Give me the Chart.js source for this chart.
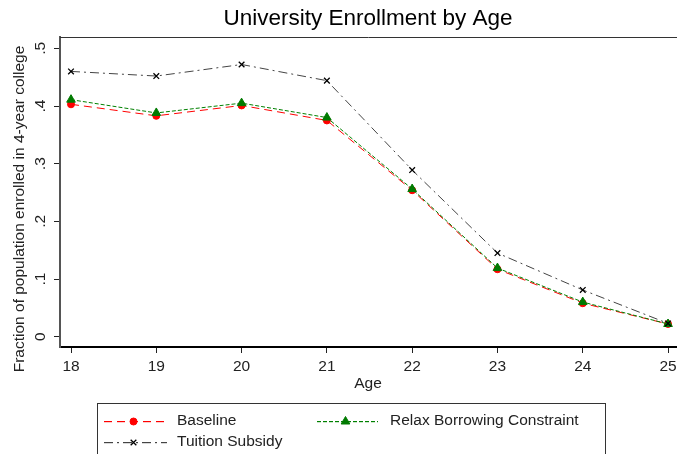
<!DOCTYPE html>
<html>
<head>
<meta charset="utf-8">
<script src="https://cdn.jsdelivr.net/npm/chart.js@4.4.1/dist/chart.umd.min.js"></script>
<style>
  html, body { margin: 0; padding: 0; background: #fff; }
  #wrap { width: 677px; height: 454px; position: relative; }
</style>
</head>
<body>
<div id="wrap"><canvas id="c" width="677" height="454"></canvas></div>
<script>
// Enrollment in 4-year college by age, three policy scenarios
const ages = [18, 19, 20, 21, 22, 23, 24, 25];
const baseline = [0.403, 0.383, 0.401, 0.375, 0.254, 0.117, 0.058, 0.022];
const relaxBorrowing = [0.411, 0.388, 0.405, 0.380, 0.256, 0.119, 0.060, 0.022];
const tuitionSubsidy = [0.460, 0.452, 0.472, 0.444, 0.289, 0.145, 0.081, 0.023];
const yTickValues = [0, 0.1, 0.2, 0.3, 0.4, 0.5];
const yTickLabels = ['0', '.1', '.2', '.3', '.4', '.5'];
const seriesNames = ['Baseline', 'Relax Borrowing Constraint', 'Tuition Subsidy'];

const FONT = '"Liberation Sans", Arial, sans-serif';
const toXY = (vals) => vals.map((v, i) => ({ x: ages[i], y: v }));

// line and marker styles shared by the plotted series and the legend keys
const styles = [
  { line: '#ff0000', dash: [8, 5], marker: 'circle', radius: 3.5, fill: '#ff0000', stroke: '#ff0000', mw: 1 },
  { line: '#008000', dash: [4, 2], marker: 'triangle', radius: 5, fill: '#007a00', stroke: '#007a00', mw: 1 },
  { line: '#444444', dash: [9, 4, 2, 4], marker: 'crossRot', radius: 4, fill: '#000000', stroke: '#000000', mw: 1.3 }
];

// dashed key line built from filled 1px segments
function dashedKey(ctx, x0, x1, y, dash, color) {
  ctx.fillStyle = color;
  let x = x0, k = 0;
  while (x < x1) {
    const len = dash[k % dash.length];
    if (k % 2 === 0) ctx.fillRect(x, y, Math.min(len, x1 - x), 1.2);
    x += len;
    k++;
  }
}

// Title, top rule, rotated y labels and the boxed legend
const decor = {
  id: 'decor',
  afterDraw(chart) {
    const ctx = chart.ctx;
    const area = chart.chartArea;
    const ys = chart.scales.y;
    ctx.save();

    // title
    ctx.fillStyle = '#000';
    ctx.font = '22.5px ' + FONT;
    ctx.textAlign = 'center';
    ctx.textBaseline = 'middle';
    ctx.fillText('University Enrollment by Age', 368, 19);

    // top rule of plot region
    ctx.strokeStyle = '#333';
    ctx.lineWidth = 1;
    ctx.beginPath();
    ctx.moveTo(area.left, area.top + 0.5);
    ctx.lineTo(chart.width, area.top + 0.5);
    ctx.stroke();

    // rotated y tick labels
    ctx.font = '15.5px ' + FONT;
    ctx.fillStyle = '#222';
    yTickValues.forEach((v, i) => {
      const py = ys.getPixelForValue(v);
      ctx.save();
      ctx.translate(area.left - 19, py);
      ctx.rotate(-Math.PI / 2);
      ctx.textAlign = 'center';
      ctx.textBaseline = 'middle';
      ctx.fillText(yTickLabels[i], 0, 0);
      ctx.restore();
    });

    // y axis title
    ctx.save();
    ctx.translate(20, 209);
    ctx.rotate(-Math.PI / 2);
    ctx.textAlign = 'center';
    ctx.textBaseline = 'middle';
    ctx.fillText('Fraction of population enrolled in 4-year college', 0, 0);
    ctx.restore();

    // x axis title
    ctx.textAlign = 'center';
    ctx.textBaseline = 'middle';
    ctx.fillText('Age', 368, 384);

    // legend box
    ctx.strokeStyle = '#333';
    ctx.lineWidth = 1;
    ctx.strokeRect(97.5, 403.5, 508, 70);

    const entries = [
      { s: 0, x0: 104, x1: 167, tx: 177, y: 421 },
      { s: 1, x0: 317, x1: 378, tx: 390, y: 421 },
      { s: 2, x0: 104, x1: 167, tx: 177, y: 442 }
    ];
    entries.forEach(e => {
      const st = styles[e.s];
      ctx.save();
      dashedKey(ctx, e.x0, e.x1, e.y, st.dash, st.line);
      ctx.fillStyle = st.fill;
      ctx.strokeStyle = st.stroke;
      ctx.lineWidth = st.mw;
      Chart.helpers.drawPoint(ctx, {
        pointStyle: st.marker,
        radius: st.radius,
        borderWidth: st.mw,
        rotation: 0
      }, (e.x0 + e.x1) / 2 - 2, e.y + 0.5);
      ctx.restore();
      ctx.fillStyle = '#222';
      ctx.font = '15.5px ' + FONT;
      ctx.textAlign = 'left';
      ctx.textBaseline = 'middle';
      ctx.fillText(seriesNames[e.s], e.tx, e.y);
    });
    ctx.restore();
  }
};

const seriesValues = [baseline, relaxBorrowing, tuitionSubsidy];

const chart = new Chart(document.getElementById('c'), {
  type: 'line',
  data: {
    datasets: seriesValues.map((vals, i) => ({
      label: seriesNames[i],
      data: toXY(vals),
      borderColor: styles[i].line,
      borderWidth: 1,
      borderDash: styles[i].dash,
      pointStyle: styles[i].marker,
      pointRadius: styles[i].radius,
      pointBorderWidth: styles[i].mw,
      pointBackgroundColor: styles[i].fill,
      pointBorderColor: styles[i].stroke,
      clip: false,
      order: 3 - i
    }))
  },
  options: {
    responsive: false,
    animation: false,
    events: [],
    layout: { autoPadding: false, padding: { top: 37, left: 0, right: 0, bottom: 0 } },
    plugins: { legend: { display: false }, tooltip: { enabled: false }, title: { display: false } },
    elements: { line: { tension: 0, fill: false } },
    scales: {
      x: {
        type: 'linear',
        min: 17.871,
        max: 25.105,
        afterBuildTicks: (s) => { s.ticks = ages.map(v => ({ value: v })); },
        afterFit: (s) => { s.height = 107; s.paddingLeft = 0; s.paddingRight = 0; },
        border: { display: true, color: '#000', width: 2 },
        grid: { display: true, drawOnChartArea: false, drawTicks: true, tickLength: 6, tickColor: '#222', tickWidth: 1 },
        ticks: { color: '#222', font: { family: FONT, size: 15.5 }, padding: 4, maxRotation: 0, callback: (v) => String(v) }
      },
      y: {
        type: 'linear',
        min: -0.0179,
        max: 0.5197,
        afterBuildTicks: (s) => { s.ticks = yTickValues.map(v => ({ value: v })); },
        afterFit: (s) => { s.width = 60; s.paddingTop = 0; s.paddingBottom = 0; },
        border: { display: true, color: '#555', width: 2 },
        grid: { display: true, drawOnChartArea: false, drawTicks: true, tickLength: 6, tickColor: '#222', tickWidth: 1 },
        ticks: { display: true, color: 'rgba(0,0,0,0)', font: { family: FONT, size: 15 }, callback: () => '' }
      }
    }
  },
  plugins: [decor]
});
</script>
</body>
</html>
